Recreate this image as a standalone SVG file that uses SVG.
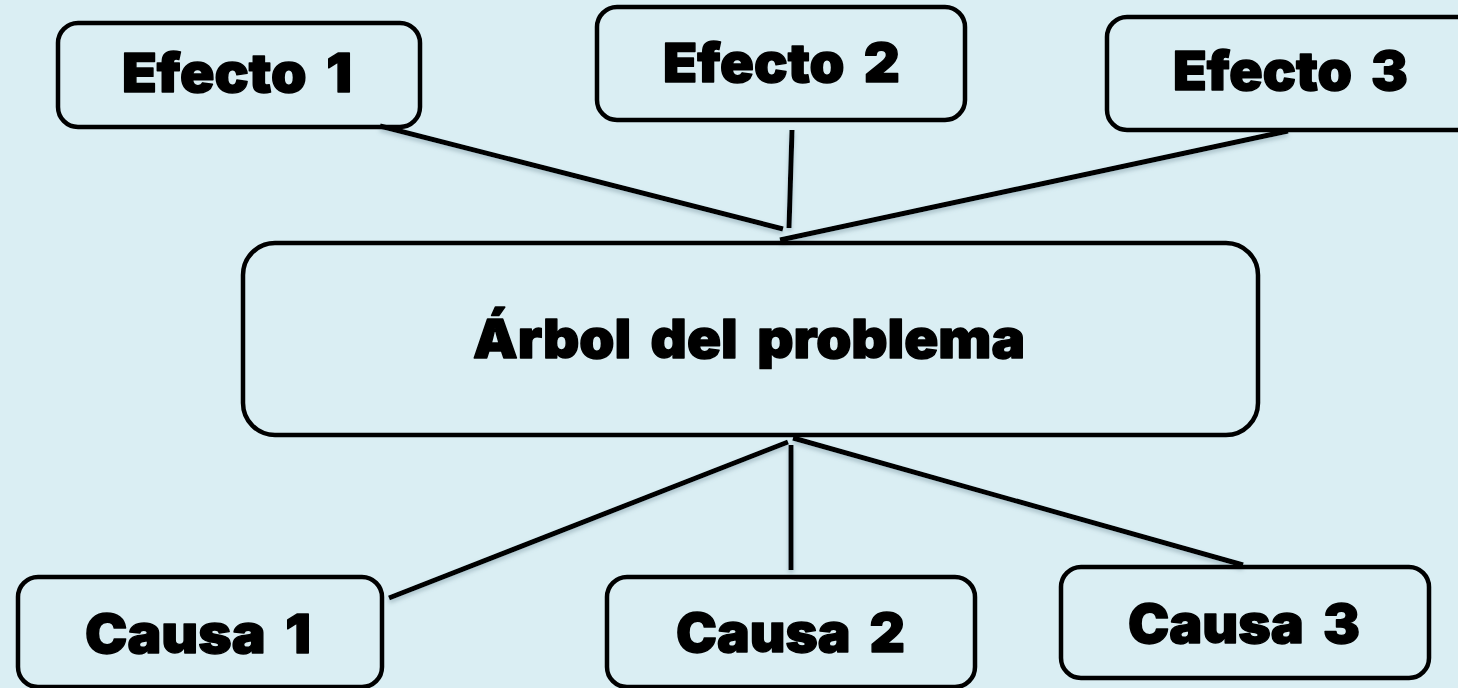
<svg xmlns="http://www.w3.org/2000/svg" width="1458" height="688" viewBox="0 0 1458 688">
<defs>
<style>
.box{fill:none;stroke:#000;stroke-width:4.5}
.lbl{font-family:"Arial Black","Inter","Roboto","Liberation Sans",sans-serif;font-weight:900;font-size:54px;fill:#000;stroke:#000;stroke-width:1.4;stroke-linejoin:round;word-spacing:8px}
.con{stroke:#000;stroke-width:5;fill:none}
</style>
<filter id="sh" x="-10%" y="-10%" width="120%" height="130%">
<feDropShadow dx="0" dy="3" stdDeviation="2" flood-color="#6e8a96" flood-opacity="0.45"/>
</filter>
</defs>
<rect width="1458" height="688" fill="#DAEEF3"/>
<g id="connectors" filter="url(#sh)">
<line class="con" x1="380" y1="126" x2="783" y2="229"/>
<line class="con" x1="792" y1="130" x2="789" y2="228"/>
<line class="con" x1="1288" y1="131" x2="780" y2="240"/>
<line class="con" x1="389" y1="598" x2="788" y2="442"/>
<line class="con" x1="791" y1="445" x2="791" y2="570"/>
<line class="con" x1="793" y1="438" x2="1243" y2="565"/>
</g>
<g id="efecto1">
<rect class="box" x="58" y="23" width="362" height="104" rx="20"/>
<text class="lbl" x="122" y="92" textLength="230" lengthAdjust="spacingAndGlyphs">Efecto 1</text>
</g>
<g id="efecto2">
<rect class="box" x="597" y="7" width="368" height="113" rx="20"/>
<text class="lbl" x="663" y="82" textLength="237" lengthAdjust="spacingAndGlyphs">Efecto 2</text>
</g>
<g id="efecto3">
<rect class="box" x="1107" y="17" width="370" height="113" rx="20"/>
<text class="lbl" x="1173" y="90" textLength="235" lengthAdjust="spacingAndGlyphs">Efecto 3</text>
</g>
<g id="problema">
<rect class="box" x="243" y="243" width="1015" height="192" rx="32"/>
<text class="lbl" x="473" y="358" textLength="552" lengthAdjust="spacingAndGlyphs">Árbol del problema</text>
</g>
<g id="causa1">
<rect class="box" x="18" y="577" width="364" height="110" rx="20"/>
<text class="lbl" x="85" y="653" textLength="226" lengthAdjust="spacingAndGlyphs">Causa 1</text>
</g>
<g id="causa2">
<rect class="box" x="607" y="577" width="368" height="110" rx="20"/>
<text class="lbl" x="676" y="652" textLength="229" lengthAdjust="spacingAndGlyphs">Causa 2</text>
</g>
<g id="causa3">
<rect class="box" x="1061" y="567" width="368" height="111" rx="20"/>
<text class="lbl" x="1128" y="643" textLength="232" lengthAdjust="spacingAndGlyphs">Causa 3</text>
</g>
</svg>
